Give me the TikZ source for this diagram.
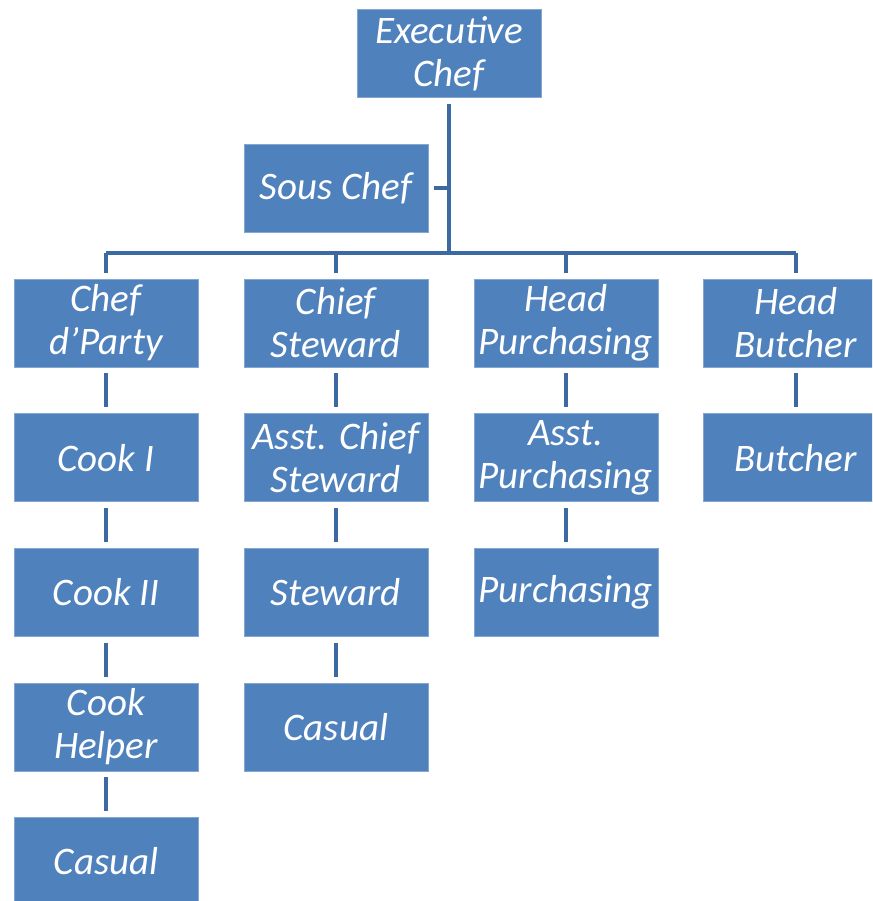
\documentclass[tikz,border=0pt]{standalone}
\usepackage{fontspec}
\setmainfont{Carlito}
\usetikzlibrary{positioning}

\definecolor{boxblue}{HTML}{4F81BD}
\definecolor{linkblue}{HTML}{3C69A2}

\begin{document}
\begin{tikzpicture}[
    x=1pt, y=-1pt,
    node distance=46pt and 45.3pt,
    role/.style={draw=boxblue!70!white, line width=0.6pt, fill=boxblue, text=white,
                 align=center, minimum width=184pt, minimum height=88pt, inner sep=1pt,
                 font=\fontsize{39}{43}\selectfont\itshape},
    link/.style={draw=linkblue, line width=3.8pt},
    gap/.style={shorten >=6pt},
]
    \useasboundingbox (0,0) rectangle (872,901);
    \clip (0,0) rectangle (872,901);

    %==================== TOP ====================
    \node[role] (exec) at (449,53.5) {Executive\\Chef};

    %==================== DEPARTMENT HEADS ====================
    \node[role] (party) at (106,323) {Chef\\d'Party};
    \node[role, right=of party] (steward) {Chief\\Steward};
    \node[role, right=of steward] (purch) {Head\\Purchasing};
    \node[role, right=of purch] (butcher) {Head\\Butcher};

    \node[role, above=of steward] (sous) {Sous Chef};

    %==================== KITCHEN ====================
    \node[role, below=of party] (cook1) {Cook I};
    \node[role, below=of cook1] (cook2) {Cook II};
    \node[role, below=of cook2] (helper) {Cook\\Helper};
    \node[role, below=of helper] (casual1) {Casual};

    %==================== STEWARDING ====================
    \node[role, below=of steward] (asststeward) {Asst. Chief\\Steward};
    \node[role, below=of asststeward] (stewardb) {Steward};
    \node[role, below=of stewardb] (casual2) {Casual};

    %==================== PURCHASING ====================
    \node[role, below=of purch] (asstpurch) {Asst.\\Purchasing};
    \node[role, below=of asstpurch] (purchasing) {Purchasing};

    %==================== BUTCHERY ====================
    \node[role, below=of butcher] (butcherb) {Butcher};

    %==================== connectors ====================
    \coordinate (bar) at (449,253);
    \draw[link, shorten <=6pt] (exec.south) -- (bar);
    \draw[link, shorten <=6pt] (sous.east) -- (sous.east -| exec.south);
    \draw[link] (party |- bar) -- (butcher |- bar);
    \foreach \head in {party, steward, purch, butcher}
        \draw[link, gap] (\head |- bar) -- (\head.north);

    % columns
    \foreach \up/\down in {party/cook1, cook1/cook2, cook2/helper, helper/casual1,
                           steward/asststeward, asststeward/stewardb, stewardb/casual2,
                           purch/asstpurch, asstpurch/purchasing, butcher/butcherb}
        \draw[link, gap, shorten <=6pt] (\up.south) -- (\down.north);

\end{tikzpicture}
\end{document}
